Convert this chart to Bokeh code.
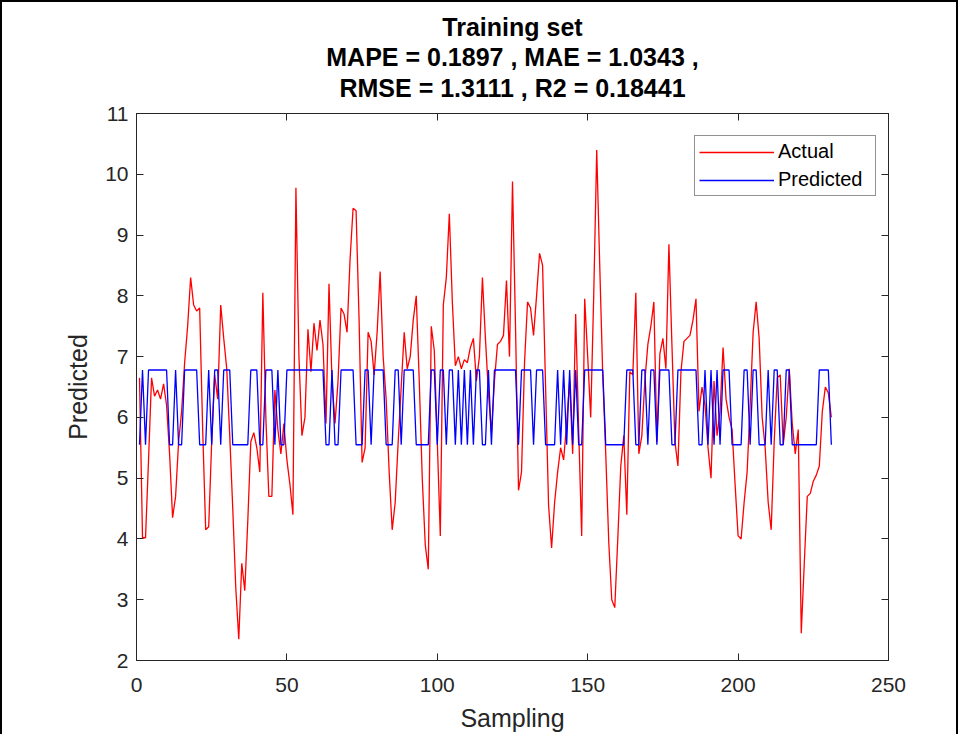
from bokeh.plotting import figure
from bokeh.models import LinearAxis, Range1d, Title, Legend, LegendItem, FixedTicker
from bokeh.embed import file_html
from bokeh.resources import INLINE

# ---------------- data ----------------
sampling = list(range(1, 232))

actual = [
    6.65, 4.02, 4.02, 5.3, 6.65, 6.35, 6.45, 6.3, 6.55, 6.2,
    5.4, 4.35, 4.7, 5.6, 6.1, 6.9, 7.5, 8.3, 7.85, 7.75,
    7.8, 5.8, 4.15, 4.2, 5.6, 6.7, 6.3, 7.85, 7.3, 6.8,
    5.7, 4.5, 3.2, 2.35, 3.6, 3.15, 4.3, 5.6, 5.75, 5.5,
    5.1, 8.05, 6.0, 4.7, 4.7, 6.45, 5.8, 5.4, 5.9, 5.3,
    4.9, 4.4, 9.78, 7.0, 5.7, 6.0, 7.45, 6.75, 7.55, 7.1,
    7.6, 7.2, 5.9, 8.2, 6.6, 5.9, 6.6, 7.8, 7.7, 7.4,
    8.6, 9.44, 9.4, 7.6, 5.26, 5.5, 7.4, 7.25, 6.7, 7.4,
    8.4, 7.0, 6.3, 5.1, 4.15, 4.6, 5.6, 6.5, 7.4, 6.8,
    7.0, 7.6, 8.0, 6.6, 5.0, 3.9, 3.5, 7.5, 7.1, 5.6,
    4.05, 7.85, 8.3, 9.35, 7.9, 6.85, 7.0, 6.8, 6.95, 6.9,
    7.15, 7.3, 6.6, 7.0, 8.3, 7.3, 6.4, 5.75, 6.6, 7.2,
    7.25, 7.35, 8.25, 7.0, 9.88, 7.5, 4.8, 5.1, 6.9, 7.9,
    7.8, 7.35, 8.0, 8.7, 8.5, 6.5, 4.55, 3.85, 4.6, 5.1,
    5.5, 5.3, 5.9, 6.6, 5.4, 7.7, 5.8, 4.05, 7.95, 7.0,
    6.0, 8.0, 10.4, 8.5, 6.7, 5.4, 3.95, 3.0, 2.87, 4.0,
    5.2, 5.7, 4.4, 6.75, 6.7, 8.05, 5.4, 5.7, 6.6, 7.2,
    7.5, 7.9, 5.6, 7.05, 7.3, 6.8, 8.85, 7.2, 5.6, 5.2,
    6.75, 7.25, 7.3, 7.35, 7.6, 7.95, 6.1, 6.5, 6.2, 5.5,
    5.0, 6.6, 5.7, 6.1, 7.15, 6.3, 6.0, 5.8, 4.9, 4.05,
    4.0, 4.6, 5.1, 6.2, 7.4, 7.9, 7.3, 6.0, 5.5, 4.6,
    4.15, 5.6, 6.65, 6.7, 5.55, 6.0, 6.8, 5.9, 5.4, 5.8,
    2.45, 3.6, 4.7, 4.75, 4.95, 5.05, 5.2, 6.1, 6.5, 6.4,
    6.0,
]

predicted = [
    5.55, 6.78, 5.55, 6.78, 6.78, 6.78, 6.78, 6.78, 6.78, 6.78,
    5.55, 5.55, 6.78, 5.55, 5.55, 6.78, 6.78, 6.78, 6.78, 6.78,
    5.55, 5.55, 5.55, 6.78, 5.55, 6.78, 6.78, 5.55, 6.78, 6.78,
    6.78, 5.55, 5.55, 5.55, 5.55, 5.55, 5.55, 6.78, 6.78, 6.78,
    5.55, 5.55, 6.78, 6.78, 6.78, 5.55, 6.78, 5.55, 5.55, 6.78,
    6.78, 6.78, 6.78, 6.78, 6.78, 6.78, 6.78, 6.78, 6.78, 6.78,
    6.78, 6.78, 5.55, 5.55, 6.78, 5.55, 5.55, 6.78, 6.78, 6.78,
    6.78, 6.78, 5.55, 5.55, 5.55, 6.78, 6.78, 5.55, 6.78, 6.78,
    6.78, 6.78, 5.55, 5.55, 5.55, 6.78, 6.78, 5.55, 6.78, 6.78,
    6.78, 6.78, 5.55, 5.55, 5.55, 5.55, 5.55, 6.78, 6.78, 5.55,
    6.78, 6.78, 5.55, 6.78, 6.78, 5.55, 6.78, 5.55, 6.78, 5.55,
    6.78, 5.55, 6.78, 6.78, 5.55, 5.55, 6.78, 5.55, 6.78, 6.78,
    6.78, 6.78, 6.78, 6.78, 6.78, 6.78, 5.55, 6.78, 6.78, 6.78,
    6.78, 5.55, 6.78, 6.78, 6.78, 5.55, 5.55, 5.55, 5.55, 6.78,
    5.55, 6.78, 5.55, 6.78, 5.55, 6.78, 5.55, 5.55, 6.78, 6.78,
    6.78, 6.78, 6.78, 6.78, 6.78, 5.55, 5.55, 5.55, 5.55, 5.55,
    5.55, 5.55, 6.78, 6.78, 6.78, 5.55, 5.55, 6.78, 6.78, 5.55,
    6.78, 6.78, 5.55, 6.78, 6.78, 6.78, 6.78, 5.55, 5.55, 6.78,
    6.78, 6.78, 6.78, 6.78, 6.78, 6.78, 5.55, 5.55, 6.78, 5.55,
    6.78, 5.55, 6.78, 5.55, 6.78, 6.78, 6.78, 5.55, 5.55, 5.55,
    5.55, 6.78, 6.78, 5.55, 6.78, 6.78, 5.55, 5.55, 5.55, 6.78,
    5.55, 6.78, 6.78, 5.55, 5.55, 6.78, 6.78, 5.55, 5.55, 5.55,
    5.55, 5.55, 5.55, 5.55, 5.55, 5.55, 6.78, 6.78, 6.78, 6.78,
    5.55,
]

x_ticks = [0, 50, 100, 150, 200, 250]
y_ticks = [2, 3, 4, 5, 6, 7, 8, 9, 10, 11]

title_lines = [
    "Training set",
    "MAPE = 0.1897 , MAE = 1.0343 ,",
    "RMSE = 1.3111 , R2 = 0.18441",
]

FONT = "Liberation Sans"
AX = "#262626"

p = figure(width=958, height=734, x_range=Range1d(0, 250), y_range=Range1d(2, 11),
           output_backend="svg", toolbar_location=None, title="",
           min_border_left=134, min_border_right=72, min_border_top=111,
           min_border_bottom=76, background_fill_color="white",
           border_fill_color="white")
p.styles = {"border-top": "2px solid #000", "border-left": "2px solid #000",
            "border-right": "2px solid #000"}

p.grid.visible = False
p.outline_line_color = AX
p.outline_line_width = 1

r_act = p.line(sampling, actual, line_color="#ff0000", line_width=1.3)
r_pred = p.line(sampling, predicted, line_color="#0000ff", line_width=1.3)


def style_axis(ax, ticks, show_labels=True):
    ax.ticker = FixedTicker(ticks=ticks)
    ax.axis_line_color = AX
    ax.major_tick_line_color = AX
    ax.major_tick_in = 7
    ax.major_tick_out = 0
    ax.minor_tick_in = 0
    ax.minor_tick_out = 0
    ax.minor_tick_line_color = None
    ax.major_label_text_font = FONT
    if show_labels:
        ax.major_label_text_font_size = "21px"
        ax.major_label_text_color = AX
    else:
        ax.major_label_text_font_size = "0px"
        ax.major_label_text_color = None
        ax.major_label_standoff = 0
    ax.axis_label_text_font = FONT
    ax.axis_label_text_font_size = "25px"
    ax.axis_label_text_font_style = "normal"
    ax.axis_label_text_color = AX


style_axis(p.xaxis[0], x_ticks)
style_axis(p.yaxis[0], y_ticks)
p.xaxis[0].axis_label = "Sampling"
p.yaxis[0].axis_label = "Predicted"
p.xaxis[0].major_label_standoff = 17
p.xaxis[0].axis_label_standoff = 9
p.yaxis[0].major_label_standoff = 8
p.yaxis[0].axis_label_standoff = 10

top_ax = LinearAxis()
style_axis(top_ax, x_ticks, show_labels=False)
p.add_layout(top_ax, "above")
right_ax = LinearAxis()
style_axis(right_ax, y_ticks, show_labels=False)
p.add_layout(right_ax, "right")

# titles: first added sits closest to the frame
title_standoffs = [24, -23, 19]
title_valign = ["bottom", "bottom", "top"]
for txt, so, va in zip(reversed(title_lines), title_standoffs, title_valign):
    p.add_layout(Title(text=txt, align="center", vertical_align=va, text_font=FONT,
                       text_font_size="25px", text_font_style="bold",
                       text_color="#000000", standoff=so), "above")

legend = Legend(items=[LegendItem(label="Actual", renderers=[r_act]),
                       LegendItem(label="Predicted", renderers=[r_pred])],
                location=(558, 464), margin=0, padding=4, spacing=5,
                glyph_width=75, glyph_height=20, label_standoff=4, label_width=93,
                label_text_font=FONT, label_text_font_size="20px",
                label_text_color="#000000", border_line_color=AX,
                border_line_width=1, background_fill_color="white",
                background_fill_alpha=1.0)
p.add_layout(legend)

open("out.html", "w").write(file_html(p, INLINE))
